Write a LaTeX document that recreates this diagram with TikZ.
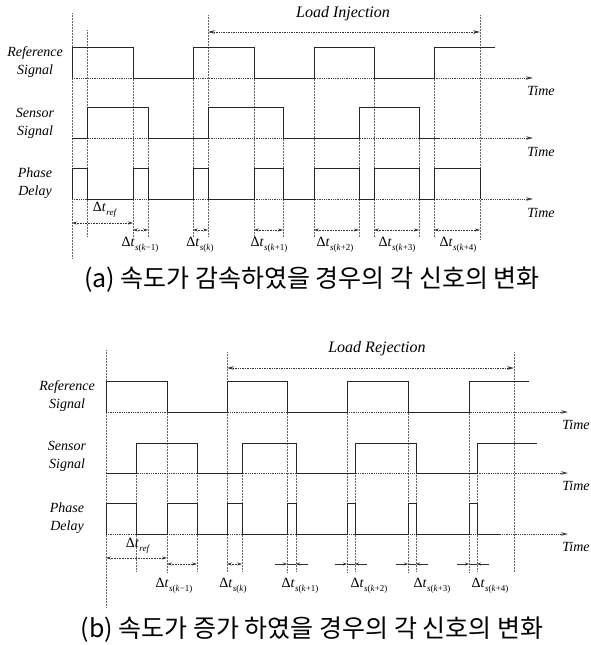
\documentclass[tikz,border=0pt]{standalone}
\usepackage{fontspec}
\setmainfont{Liberation Serif}
\newfontfamily\krfont{Noto Sans CJK KR}
\usetikzlibrary{arrows.meta}
\newcommand\dtsub[1]{Δ\textit{t}\kern0.3pt\raisebox{-0.55ex}{\fontsize{9}{9}\selectfont #1}}
\newcommand\sk[1]{\textit{s}(\textit{k}#1)}
\begin{document}
\begin{tikzpicture}[x=1pt,y=-1pt,
  sig/.style={line width=1pt, black!85, line join=miter},
  guide/.style={densely dotted, line width=0.5pt, black!60},
  axis/.style={densely dotted, line width=0.8pt, black!75, -{Stealth[length=7pt,width=3.5pt]}},
  dim/.style={densely dotted, line width=0.6pt, black!80, {Stealth[length=5pt,width=3pt]}-{Stealth[length=5pt,width=3pt]}},
  dimin/.style={line width=0.6pt, black!80, -{Stealth[length=4pt,width=3pt]}},
  load/.style={densely dotted, line width=0.7pt, black!80, {Stealth[length=7pt,width=3.5pt]}-{Stealth[length=7pt,width=3.5pt]}},
  lbl/.style={font=\fontsize{14}{18}\selectfont\itshape, align=center, inner sep=0pt},
  tlbl/.style={font=\fontsize{14}{16}\selectfont\itshape, inner sep=0pt},
  dlbl/.style={font=\fontsize{14}{15}\selectfont, inner sep=0pt},
  captxt/.style={font=\krfont\fontsize{25}{27}\selectfont, inner sep=0pt}]
\useasboundingbox (0,0) rectangle (590,645);

% ================= panel (a) =================
% guides
\draw[guide] (72,13) -- (72,258);
\draw[guide] (208,15) -- (208,237);
\draw[guide] (480,15) -- (480,240);
\foreach \x/\y in {87/30,133/47,148/107,193/47,254/47,283/107,314/47,359/107,374/47,419/107,434/47}
  \draw[guide] (\x,\y) -- (\x,237);
% axes
\draw[axis] (72,78) -- (533,78);
\draw[axis] (72,138) -- (533,138);
\draw[axis] (72,199) -- (533,199);
% signals
\draw[sig] (72,78) -- (72,47) -- (133,47) -- (133,78) -- (193,78) -- (193,47) -- (254,47) -- (254,78)
  -- (314,78) -- (314,47) -- (374,47) -- (374,78) -- (434,78) -- (434,47) -- (495,47);
\draw[sig] (72,138) -- (87,138) -- (87,107) -- (148,107) -- (148,138) -- (208,138) -- (208,107) -- (283,107)
  -- (283,138) -- (359,138) -- (359,107) -- (419,107) -- (419,138) -- (440,138);
\draw[sig] (72,199) -- (72,168) -- (87,168) -- (87,199) -- (133,199) -- (133,168) -- (148,168) -- (148,199)
  -- (193,199) -- (193,168) -- (208,168) -- (208,199) -- (254,199) -- (254,168) -- (283,168) -- (283,199)
  -- (314,199) -- (314,168) -- (359,168) -- (359,199) -- (374,199) -- (374,168) -- (419,168) -- (419,199)
  -- (434,199) -- (434,168) -- (480,168) -- (480,199);
% labels
\node[lbl] (ra) at (35,62) {Reference\\Signal};
\node[lbl] (sa) at (35,123) {Sensor\\Signal};
\node[lbl] (pa) at (35,183) {Phase\\Delay};
\node[tlbl] (ta1) at (541,91) {Time};
\node[tlbl] (ta2) at (541,152) {Time};
\node[tlbl] (ta3) at (541,213) {Time};
% load injection
\coordinate (la1) at (208,32); \coordinate (la2) at (480,32);
\draw[load] (la1) -- (la2);
\node[font=\fontsize{16}{18}\selectfont\itshape, inner sep=0pt] (lia) at (343,14) {Load Injection};
% dimensions
\coordinate (dra1) at (72,223); \coordinate (dra2) at (133,223);
\draw[dim] (dra1) -- (dra2);
\node[dlbl] (dtra) at (105,210) {\dtsub{\textit{ref}}};
\foreach \a/\b/\c/\s [count=\i] in {133/148/140/\sk{−1},193/208/200/\sk{},254/283/269/\sk{+1},314/359/335/\sk{+2},374/419/397/\sk{+3},434/480/458/\sk{+4}}{
  \coordinate (da\i l) at (\a,230); \coordinate (da\i r) at (\b,230);
  \draw[dim] (da\i l) -- (da\i r);
  \node[dlbl] (dta\i) at (\c,245) {\dtsub{\s}};
}
\node[captxt] (capa) at (312,280) {(a) 속도가 감속하였을 경우의 각 신호의 변화};

% ================= panel (b) =================
\draw[guide] (106,350) -- (106,608);
\draw[guide] (227,352) -- (227,572);
\draw[guide] (514,352) -- (514,572);
\foreach \x/\y in {136/443,167/381,197/443,242/443,287/381,296/443,347/381,355/443,408/381,416/443,469/381,477/443}
  \draw[guide] (\x,\y) -- (\x,572);
\draw[axis] (106,412) -- (568,412);
\draw[axis] (106,473) -- (568,473);
\draw[axis] (106,534) -- (568,534);
\draw[sig] (106,412) -- (106,381) -- (167,381) -- (167,412) -- (227,412) -- (227,381) -- (287,381) -- (287,412)
  -- (347,412) -- (347,381) -- (408,381) -- (408,412) -- (469,412) -- (469,381) -- (529,381);
\draw[sig] (106,473) -- (136,473) -- (136,443) -- (197,443) -- (197,473) -- (242,473) -- (242,443) -- (296,443)
  -- (296,473) -- (355,473) -- (355,443) -- (416,443) -- (416,473) -- (477,473) -- (477,443) -- (537,443);
\draw[sig] (106,534) -- (106,503) -- (136,503) -- (136,534) -- (167,534) -- (167,503) -- (197,503) -- (197,534)
  -- (227,534) -- (227,503) -- (242,503) -- (242,534) -- (287,534) -- (287,503) -- (296,503) -- (296,534)
  -- (347,534) -- (347,503) -- (355,503) -- (355,534) -- (408,534) -- (408,503) -- (416,503) -- (416,534)
  -- (469,534) -- (469,503) -- (477,503) -- (477,534) -- (500,534);
\node[lbl] (rb) at (67,396) {Reference\\Signal};
\node[lbl] (sb) at (67,456) {Sensor\\Signal};
\node[lbl] (pb) at (67,518) {Phase\\Delay};
\node[tlbl] (tb1) at (576,425) {Time};
\node[tlbl] (tb2) at (576,486) {Time};
\node[tlbl] (tb3) at (576,547) {Time};
\coordinate (lb1) at (227,368); \coordinate (lb2) at (514,368);
\draw[load] (lb1) -- (lb2);
\node[font=\fontsize{16}{18}\selectfont\itshape, inner sep=0pt] (lrb) at (377,349) {Load Rejection};
\coordinate (drb1) at (106,558); \coordinate (drb2) at (167,558);
\draw[dim] (drb1) -- (drb2);
\node[dlbl] (dtrb) at (138,546) {\dtsub{\textit{ref}}};
\coordinate (db1l) at (167,564); \coordinate (db1r) at (197,564);
\draw[dim] (db1l) -- (db1r);
\coordinate (db2l) at (227,564); \coordinate (db2r) at (242,564);
\draw[dim] (db2l) -- (db2r);
\foreach \a/\b [count=\i from 3] in {287/296,347/355,408/416,469/477}{
  \coordinate (db\i l) at (\a,564); \coordinate (db\i r) at (\b,564);
  \coordinate (db\i lo) at (\a-12,564); \coordinate (db\i ro) at (\b+12,564);
  \draw[dimin] (db\i lo) -- (db\i l);
  \draw[dimin] (db\i ro) -- (db\i r);
  \draw[line width=0.6pt, black!80] (db\i l) -- (db\i r);
}
\foreach \c/\s [count=\i] in {174/\sk{−1},233/\sk{},300/\sk{+1},369/\sk{+2},432/\sk{+3},490/\sk{+4}}
  \node[dlbl] (dtb\i) at (\c,586) {\dtsub{\s}};
\node[captxt] (capb) at (312,630) {(b) 속도가 증가 하였을 경우의 각 신호의 변화};
\end{tikzpicture}
\end{document}
